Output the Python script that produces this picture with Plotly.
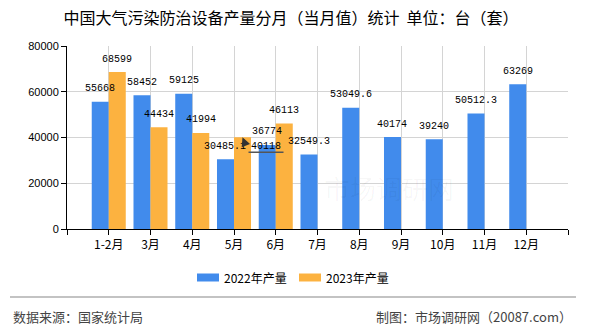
import plotly.graph_objects as go

# ---------------- data ----------------
categories = ["1-2月", "3月", "4月", "5月", "6月", "7月", "8月", "9月", "10月", "11月", "12月"]
prod_2022 = [55668, 58452, 59125, 30485.1, 36774, 32549.3, 53049.6, 40174, 39240, 50512.3, 63269]
prod_2023 = [68599, 44434, 41994, 40118, 46113, None, None, None, None, None, None]
series_names = ["2022年产量", "2023年产量"]
y_ticks = [0, 20000, 40000, 60000, 80000]
y_tick_labels = ["0", "20000", "40000", "60000", "80000"]

title_text = "中国大气污染防治设备产量分月（当月值）统计  单位：台（套）"
source_text = "数据来源：国家统计局"
maker_text = "制图：市场调研网（20087.com）"

# ---------------- style ----------------
BLUE = "#418BEC"
ORANGE = "#FCB240"
GRID = "#D4D4D4"
CJK = "Noto Sans CJK SC"
NUM = "Liberation Mono"

W, H = 590, 330
L, R, T, B = 67, 22, 46, 101
plot_w, plot_h = W - L - R, H - T - B

BARGAP = 0.185
half = (1 - BARGAP) / 4  # offset of each bar centre from category centre

x_idx = list(range(len(categories)))

fig = go.Figure()
fig.add_trace(go.Bar(x=x_idx, y=prod_2022, name=series_names[0],
                     marker=dict(color=BLUE, line=dict(width=0)), showlegend=False))
fig.add_trace(go.Bar(x=x_idx, y=prod_2023, name=series_names[1],
                     marker=dict(color=ORANGE, line=dict(width=0)), showlegend=False))


def fmt(v):
    return f"{v:g}"


annotations = []
shapes = []

# value labels
for i, v in enumerate(prod_2022):
    if v is None:
        continue
    annotations.append(dict(x=i - half, y=v, xref="x", yref="y", text=fmt(v),
                            showarrow=False, yshift=13,
                            font=dict(family=NUM, size=10, color="#000")))
for i, v in enumerate(prod_2023):
    if v is None:
        continue
    if categories[i] == "5月":
        # displaced label with leader line
        annotations.append(dict(x=i + half, y=v, xref="x", yref="y", text=fmt(v),
                                showarrow=False, xshift=23, yshift=-9,
                                font=dict(family=NUM, size=10, color="#000")))
        annotations.append(dict(x=i + half, y=v, xref="x", yref="y", text=" ",
                                showarrow=True, ax=6, ay=15, axref="pixel", ayref="pixel",
                                arrowhead=2, arrowsize=1.2, arrowwidth=1.5,
                                arrowcolor="#333", standoff=0, startstandoff=0))
        shapes.append(dict(type="line", xref="x", yref="y",
                           xsizemode="pixel", xanchor=i + half, x0=6, x1=41,
                           ysizemode="pixel", yanchor=v, y0=-15, y1=-15,
                           line=dict(color="#555", width=1.5)))
        continue
    annotations.append(dict(x=i + half, y=v, xref="x", yref="y", text=fmt(v),
                            showarrow=False, yshift=13,
                            font=dict(family=NUM, size=10, color="#000")))


def px_to_paper_x(px):
    return (px - L) / plot_w


def px_to_paper_y(py):
    return (H - B - py) / plot_h


# custom legend
legend_items = [(series_names[0], BLUE, 197), (series_names[1], ORANGE, 299)]
for name, col, x0 in legend_items:
    shapes.append(dict(type="rect", xref="paper", yref="paper",
                       x0=px_to_paper_x(x0), x1=px_to_paper_x(x0 + 22),
                       y0=px_to_paper_y(281.5), y1=px_to_paper_y(273.5),
                       fillcolor=col, line=dict(width=0)))
    annotations.append(dict(x=px_to_paper_x(x0 + 25), y=px_to_paper_y(277.5),
                            xref="paper", yref="paper", text=name, showarrow=False,
                            xanchor="left", yanchor="middle",
                            font=dict(family=CJK, size=12, color="#000")))

# footer separator
shapes.append(dict(type="line", xref="paper", yref="paper",
                   x0=px_to_paper_x(10), x1=px_to_paper_x(576),
                   y0=px_to_paper_y(297), y1=px_to_paper_y(297),
                   line=dict(color="#888", width=1.2)))
annotations.append(dict(x=px_to_paper_x(11), y=px_to_paper_y(316), xref="paper", yref="paper",
                        text=source_text, showarrow=False, xanchor="left", yanchor="middle",
                        font=dict(family=CJK, size=13, color="#444")))
annotations.append(dict(x=px_to_paper_x(574), y=px_to_paper_y(316), xref="paper", yref="paper",
                        text=maker_text, showarrow=False, xanchor="right", yanchor="middle",
                        font=dict(family=CJK, size=13, color="#444")))
# faint watermark
annotations.append(dict(x=px_to_paper_x(389), y=px_to_paper_y(208), xref="paper", yref="paper",
                        text="市场调研网", showarrow=False,
                        font=dict(family=CJK, size=26, color="rgba(0,0,0,0.035)")))

tickvals = list(range(-1, len(categories) + 1))
ticktext = [""] + categories + [""]

fig.update_layout(
    width=W, height=H,
    margin=dict(l=L, r=R, t=T, b=B, pad=0),
    paper_bgcolor="white", plot_bgcolor="white",
    barmode="group", bargap=BARGAP, bargroupgap=0,
    title=dict(text=title_text, x=291 / W, xref="container", xanchor="center",
               y=1 - 18 / H, yref="container", yanchor="middle",
               font=dict(family=CJK, size=16, color="#000")),
    xaxis=dict(range=[-1, len(categories)], tickmode="array", tickvals=tickvals, ticktext=ticktext,
               showgrid=True, gridcolor=GRID, gridwidth=1, zeroline=False,
               showline=True, linecolor="#000", linewidth=1,
               ticks="outside", ticklen=5, tickcolor="#000", tickwidth=1,
               tickfont=dict(family=CJK, size=12, color="#000")),
    yaxis=dict(range=[0, 80000], tickmode="array", tickvals=y_ticks, ticktext=y_tick_labels,
               showgrid=True, gridcolor=GRID, gridwidth=1, zeroline=False,
               showline=True, linecolor="#000", linewidth=1,
               ticks="outside", ticklen=5, tickcolor="#000", tickwidth=1,
               tickfont=dict(family="Liberation Sans", size=11, color="#000")),
    annotations=annotations,
    shapes=shapes,
    showlegend=False,
)

fig.write_html("out.html")
